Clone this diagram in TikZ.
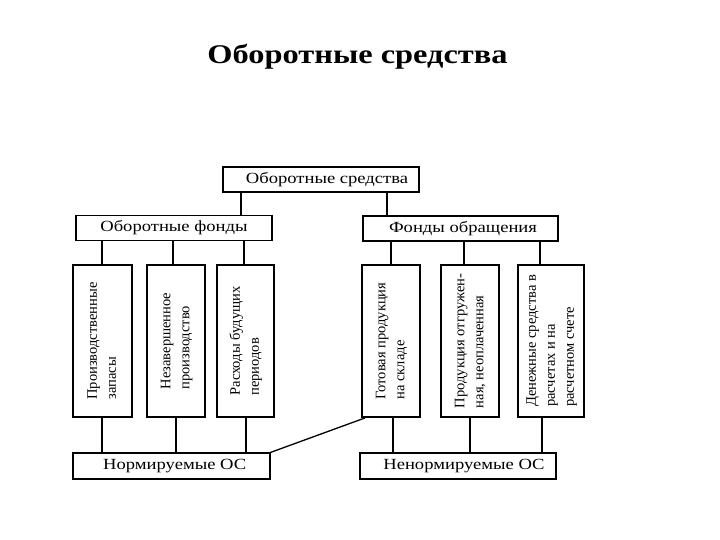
\documentclass[tikz,border=0pt]{standalone}
\usepackage{fontspec}
\setmainfont{Liberation Serif}
\newcommand{\wide}[1]{\scalebox{1.2}[1]{#1}}
\begin{document}
\begin{tikzpicture}[x=1pt,y=-1pt,
  hbox/.style={draw,rectangle,inner sep=0pt,minimum height=25pt,font=\fontsize{15.5}{18}\selectfont},
  tallbox/.style={draw,rectangle,inner sep=0pt,line width=1.8pt,minimum height=152pt,font=\fontsize{14.5}{19}\selectfont},
  link/.style={line width=1.3pt},
  toplink/.style={line width=1.6pt}]
\useasboundingbox (0,0) rectangle (720,540);
\fill[white] (0,0) rectangle (720,540);
\node[font=\fontsize{27}{32}\selectfont\bfseries, anchor=base] (title) at (357.5,64) {\scalebox{1.2}[1]{Оборотные средства}};
% top box
\node[hbox,line width=2.3pt,minimum width=196pt] (top) at (321,179.5) {\hspace{12pt}\wide{Оборотные средства}};
% second row
\node[hbox,line width=1.5pt,minimum width=196pt] (of) at (174,228) {\wide{Оборотные фонды}};
\node[hbox,line width=1.5pt,minimum width=195pt] (fo) at (460.5,228.5) {\hspace{5pt}\wide{Фонды обращения}};
% tall boxes
\node[tallbox,minimum width=59pt] (b1) at (102.5,341) {\rotatebox{90}{\begin{tabular}{@{}l@{}}Производственные\\запасы\end{tabular}}};
\node[tallbox,minimum width=58pt] (b2) at (176,341) {\rotatebox{90}{\begin{tabular}{@{}l@{}}Незавершенное\\производство\end{tabular}}};
\node[tallbox,minimum width=57pt] (b3) at (245.5,341) {\rotatebox{90}{\begin{tabular}{@{}l@{}}Расходы будущих\\периодов\end{tabular}}};
\node[tallbox,minimum width=58pt] (b4) at (391,341) {\rotatebox{90}{\begin{tabular}{@{}l@{}}Готовая продукция\\на складе\end{tabular}}};
\node[tallbox,minimum width=58pt] (b5) at (470,341) {\rotatebox{90}{\begin{tabular}{@{}l@{}}Продукция отгружен-\\ная, неоплаченная\end{tabular}}};
\node[tallbox,minimum width=66pt] (b6) at (551,341) {\rotatebox{90}{\begin{tabular}{@{}l@{}}Денежные средства в\\расчетах и на\\расчетном счете\end{tabular}}};
% bottom boxes
\node[hbox,line width=1.2pt,minimum width=197pt,minimum height=26pt] (nl) at (171.5,466) {\hspace{6.5pt}\wide{Нормируемые ОС}};
\node[hbox,line width=1.2pt,minimum width=196pt,minimum height=26pt] (nr) at (458,466) {\hspace{12pt}\wide{Ненормируемые ОС}};
% links top -> second
\draw[toplink] (top.south -| 241,0) -- (of.north -| 241,0);
\draw[toplink] (top.south -| 387,0) -- (fo.north -| 387,0);
% second -> tall
\draw[link] (of.south -| 102,0) -- (b1.north -| 102,0);
\draw[link] (of.south -| 173,0) -- (b2.north -| 173,0);
\draw[link] (of.south -| 244,0) -- (b3.north -| 244,0);
\draw[link] (fo.south -| 391,0) -- (b4.north -| 391,0);
\draw[link] (fo.south -| 464,0) -- (b5.north -| 464,0);
\draw[link] (fo.south -| 540,0) -- (b6.north -| 540,0);
% tall -> bottom
\draw[link] (b1.south -| 102,0) -- (nl.north -| 102,0);
\draw[link] (b2.south -| 176,0) -- (nl.north -| 176,0);
\draw[link] (b3.south -| 246,0) -- (nl.north -| 246,0);
\draw[link] (b4.south -| 393,0) -- (nr.north -| 393,0);
\draw[link] (b5.south -| 470,0) -- (nr.north -| 470,0);
\draw[link] (b6.south -| 542,0) -- (nr.north -| 542,0);
% diagonal
\draw[link] (nl.north east) -- ([xshift=4pt]b4.south west);
\end{tikzpicture}
\end{document}
